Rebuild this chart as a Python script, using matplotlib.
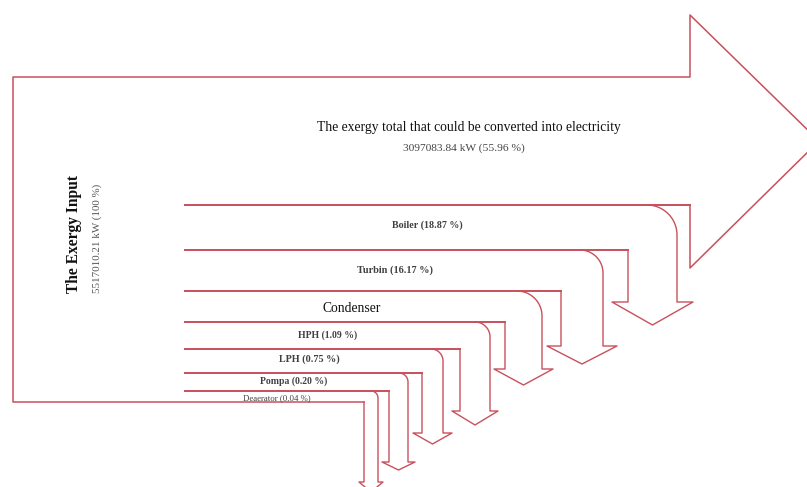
import matplotlib.pyplot as plt
import numpy as np

# exergy flows
input_label = "The Exergy Input"
input_value = "5517010.21 kW (100 %)"
output_label = "The exergy total that could be converted into electricity"
output_value = "3097083.84 kW (55.96 %)"

loss_names = ["Boiler", "Turbin", "Condenser", "HPH", "LPH", "Pompa", "Deaerator"]
loss_pct = [18.87, 16.17, None, 1.09, 0.75, 0.20, 0.04]

# layout of the schematic (pixel coords of the 807x487 picture)
band_top = [205, 250, 291, 322, 349, 373, 391]
band_bot = [250, 291, 322, 349, 373, 391, 402]
shaft_in = [628, 561, 505, 460, 422, 389, 364]
shaft_out = [677, 603, 542, 490, 443, 408, 378]
bend_r = [30, 23, 25, 15, 12, 9, 7]
head_base = [302, 346, 369, 411, 433, 462, 482]
head_tip = [325, 364, 385, 425, 444, 470, 492]
head_flare = [16, 14, 11, 8, 9, 7, 5]
label_xy = [(427, 225), (395, 270), (352, 309), (328, 335), (309, 359), (294, 381), (277, 398)]

line_col = "#c8505c"
txt_col = "#404040"
serif = "Liberation Serif"

fig = plt.figure(figsize=(8.07, 4.87), dpi=100)
ax = fig.add_axes([0, 0, 1, 1])
ax.set_xlim(0, 807)
ax.set_ylim(487, 0)
ax.axis("off")

# main arrow (input -> electricity)
main_x = [690, 690, 819, 690, 690, 13, 13, shaft_in[-1]]
main_y = [band_top[0], 268, 141, 15, 77, 77, band_bot[-1], band_bot[-1]]
ax.plot(main_x, main_y, color=line_col, lw=1.1)

# loss branches bending down
for i in range(len(loss_names)):
    right = 690 if i == 0 else shaft_in[i - 1]
    ax.plot([185, right], [band_top[i], band_top[i]], color=line_col, lw=1.4)

    r = bend_r[i]
    cx, cy = shaft_out[i] - r, band_top[i] + r
    t = np.linspace(np.pi / 2, 0, 20)
    arc_x = cx + r * np.cos(t)
    arc_y = cy - r * np.sin(t)
    mid = (shaft_in[i] + shaft_out[i]) / 2
    px = list(arc_x) + [shaft_out[i], shaft_out[i] + head_flare[i], mid,
                        shaft_in[i] - head_flare[i], shaft_in[i], shaft_in[i]]
    py = list(arc_y) + [head_base[i], head_base[i], head_tip[i],
                        head_base[i], head_base[i], band_bot[i]]
    ax.plot(px, py, color=line_col, lw=1.0)

# texts
ax.text(74, 234, input_label, rotation=90, ha="center", va="center",
        fontsize=11.2, fontweight="bold", family=serif, color="#111111")
ax.text(97, 238, input_value, rotation=90, ha="center", va="center",
        fontsize=7.9, family=serif, color="#555555")
ax.text(469, 128, output_label, ha="center", va="center",
        fontsize=9.8, family=serif, color="#111111")
ax.text(464, 148, output_value, ha="center", va="center",
        fontsize=8.2, family=serif, color="#444444")

sizes = [7.2, 7.4, 9.8, 7.0, 7.3, 7.0, 6.3]
for i, name in enumerate(loss_names):
    x, y = label_xy[i]
    if loss_pct[i] is None:
        ax.add_patch(plt.Rectangle((307, 293), 99, 28, facecolor="white",
                                   edgecolor="none", zorder=3))
        ax.text(x, y, name, ha="center", va="center", fontsize=sizes[i],
                family=serif, color="#111111", zorder=4)
    else:
        ax.text(x, y, f"{name} ({loss_pct[i]:.2f} %)", ha="center", va="center",
                fontsize=sizes[i], family=serif, color=txt_col,
                fontweight="bold" if i < 6 else "normal")

fig.savefig("out.png", dpi=100)
